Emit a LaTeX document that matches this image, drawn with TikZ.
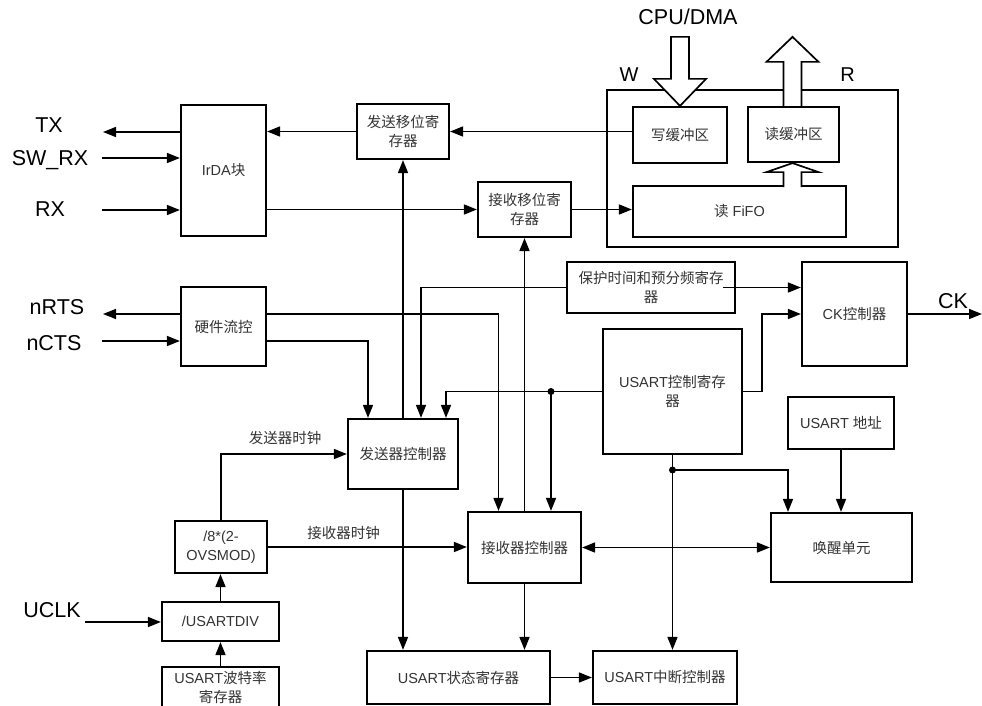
\documentclass[tikz,border=0pt]{standalone}
\usepackage{fontspec}
\setmainfont{Liberation Sans}
\newfontfamily\cjk{Noto Sans CJK SC}
\usetikzlibrary{arrows.meta,calc}
\begin{document}
\begin{tikzpicture}[x=1pt,y=-1pt,
 box/.style={draw, line width=2.2pt, inner sep=0pt, align=center, font=\fontsize{14.5}{19}\selectfont, text=black!80},
 conn/.style={line width=1.5pt, -{Triangle[length=13pt,width=10pt]}},
 conntwo/.style={line width=1.5pt, {Triangle[length=13pt,width=10pt]}-{Triangle[length=13pt,width=10pt]}},
 wire/.style={line width=1.5pt},
 sig/.style={font=\fontsize{21.5}{24}\selectfont, anchor=base, inner sep=0pt},
 clk/.style={font=\cjk\fontsize{14.5}{17}\selectfont, text=black!80, inner sep=0pt},
 hollow/.style={draw, line width=1.7pt, fill=white, line join=miter},
 jdot/.style={circle, fill, inner sep=0pt, minimum size=7pt}]
\useasboundingbox (0,0) rectangle (982,706);

% outer FIFO area
\node[draw, line width=2.2pt, minimum width=291pt, minimum height=157pt, inner sep=0pt] (area) at (752.5,168.5) {};

% boxes
\node[box, minimum width=85pt, minimum height=131pt] (irda) at (223.5,170.5) {IrDA{\cjk 块}};
\node[box, minimum width=92pt, minimum height=55pt] (txsr) at (403,131.5) {{\cjk 发送移位寄}\\{\cjk 存器}};
\node[box, minimum width=93pt, minimum height=55pt] (rxsr) at (524.5,209.5) {{\cjk 接收移位寄}\\{\cjk 存器}};
\node[box, minimum width=94pt, minimum height=56pt] (wbuf) at (680,135) {\cjk 写缓冲区};
\node[box, minimum width=91pt, minimum height=55pt] (rbuf) at (793.5,134.5) {\cjk 读缓冲区};
\node[box, minimum width=213pt, minimum height=51pt] (fifo) at (739.5,211.5) {{\cjk 读} FiFO};
\node[box, minimum width=85pt, minimum height=79pt] (hwfc) at (223.5,326.5) {\cjk 硬件流控};
\node[box, minimum width=168pt, minimum height=51pt] (guard) at (651,287.5) {{\cjk 保护时间和预分频寄存}\\{\cjk 器}};
\node[box, minimum width=105pt, minimum height=104pt] (ckc) at (854.5,314) {CK{\cjk 控制器}};
\node[box, minimum width=139pt, minimum height=125pt] (ctrl) at (672.5,391.5) {USART{\cjk 控制寄存}\\{\cjk 器}};
\node[box, minimum width=110pt, minimum height=70pt] (txc) at (403,454) {\cjk 发送器控制器};
\node[box, minimum width=113pt, minimum height=71pt] (rxc) at (524.5,547.5) {\cjk 接收器控制器};
\node[box, minimum width=106pt, minimum height=52pt] (addr) at (841,423) {USART {\cjk 地址}};
\node[box, minimum width=141pt, minimum height=69pt] (wake) at (841.5,547.5) {\cjk 唤醒单元};
\node[box, minimum width=183pt, minimum height=53pt] (stat) at (458.5,677.5) {USART{\cjk 状态寄存器}};
\node[box, minimum width=144pt, minimum height=53pt] (intc) at (665,677.5) {USART{\cjk 中断控制器}};
\node[box, minimum width=92pt, minimum height=52pt] (ovs) at (221,547) {/8*(2-\\OVSMOD)};
\node[box, minimum width=117pt, minimum height=39pt] (div) at (220.5,621.5) {/USARTDIV};
\node[box, minimum width=117pt, minimum height=41pt] (baud) at (220.5,687.5) {USART{\cjk 波特率}\\{\cjk 寄存器}};

% signal labels
\node[sig] (ltx) at (49,132) {TX};
\node[sig] (lswrx) at (50,165) {SW\_RX};
\node[sig] (lrx) at (50,216.5) {RX};
\node[sig] (lnrts) at (57,314) {nRTS};
\node[sig] (lncts) at (54,350) {nCTS};
\node[sig] (luclk) at (52,617) {UCLK};
\node[sig] (lck) at (953,308) {CK};
\node[sig] (lcpu) at (688,25) {CPU/DMA};
\node[sig, font=\fontsize{20}{22}\selectfont] (lw) at (629,82) {W};
\node[sig, font=\fontsize{20}{22}\selectfont] (lr) at (847.5,82) {R};
\node[clk] (ltxclk) at (285,438) {发送器时钟};
\node[clk] (lrxclk) at (343.5,533) {接收器时钟};

% free ends
\coordinate (txend) at (103,132);
\coordinate (swrxs) at (102,158);
\coordinate (rxs) at (102,210);
\coordinate (nrtsend) at (103,314);
\coordinate (nctss) at (102,341);
\coordinate (uclks) at (85,622);
\coordinate (ckend) at (982,314);
\coordinate (j1) at (551,391.5);
\coordinate (j2) at (672.5,470);

% left I/O
\draw[conn] (irda.west |- txend) -- (txend);
\draw[conn] (swrxs) -- (swrxs -| irda.west);
\draw[conn] (rxs) -- (rxs -| irda.west);
\draw[conn] (hwfc.west |- nrtsend) -- (nrtsend);
\draw[conn] (nctss) -- (nctss -| hwfc.west);
\draw[conn] (uclks) -- (uclks -| div.west);
\draw[conn] (ckc.east) -- (ckend);

% top data path
\draw[conn] (txsr.west) -- (txsr.west -| irda.east);
\draw[conn] (irda.east |- rxsr.west) -- (rxsr.west);
\draw[conn] (wbuf.west |- txsr.east) -- (txsr.east);
\draw[conn] (rxsr.east) -- (rxsr.east -| fifo.west);
\draw[conn] (txc.north) -- (txsr.south);
\draw[conn] (rxc.north) -- (rxsr.south);

% flow control
\draw[conn] (hwfc.east |- nrtsend) -| ([xshift=-26pt]rxc.north);
\draw[conn] (hwfc.east |- nctss) -| ([xshift=-35pt]txc.north);

% guard time / CK
\draw[conn] (guard.west) -| ([xshift=18pt]txc.north);
\draw[conn] ([xshift=-13pt]guard.east) -- (guard.east -| ckc.west);
\draw[conn] (ctrl.east) -- ++(19,0) |- (ckc.west);

% control register
\draw[conn] (ctrl.west) -| ([xshift=43pt]txc.north);
\node[jdot] (d1) at (j1) {};
\draw[conn] (j1) -- (j1 |- rxc.north);
\draw[conn] (ctrl.south) -- (ctrl.south |- intc.north);
\node[jdot] (d2) at (j2) {};
\draw[conn] (j2) -| ([xshift=-53.5pt]wake.north);
\draw[conn] (addr.south) -- (addr.south |- wake.north);
\draw[conntwo] (rxc.east) -- (rxc.east -| wake.west);

% clocks
\draw[conn] (ovs.east) -- (ovs.east -| rxc.west);
\draw[conn] (ovs.north) |- (txc.west);
\draw[conn] (div.north) -- (div.north |- ovs.south);
\draw[conn] (baud.north) -- (baud.north |- div.south);

% status / interrupt
\draw[conn] (txc.south) -- (txc.south |- stat.north);
\draw[conn] (rxc.south) -- (rxc.south |- stat.north);
\draw[conn] (stat.east) -- (stat.east -| intc.west);

% hollow bus arrows
\draw[hollow] ($(wbuf.north)+(-9,-69)$) -- ($(wbuf.north)+(9,-69)$) -- ($(wbuf.north)+(9,-27)$) -- ($(wbuf.north)+(26,-27)$) -- (wbuf.north) -- ($(wbuf.north)+(-26,-27)$) -- ($(wbuf.north)+(-9,-27)$) -- cycle;
\draw[hollow] ($(rbuf.north)+(-10,0)$) -- ($(rbuf.north)+(-10,-44)$) -- ($(rbuf.north)+(-27,-44)$) -- ($(rbuf.north)+(-1,-69)$) -- ($(rbuf.north)+(25,-44)$) -- ($(rbuf.north)+(8,-44)$) -- ($(rbuf.north)+(8,0)$);
\draw[hollow] ($(rbuf.south)+(-10,24)$) -- ($(rbuf.south)+(-10,9)$) -- ($(rbuf.south)+(-27,9)$) -- ($(rbuf.south)+(-1,0)$) -- ($(rbuf.south)+(25,9)$) -- ($(rbuf.south)+(8,9)$) -- ($(rbuf.south)+(8,24)$);
\end{tikzpicture}
\end{document}
